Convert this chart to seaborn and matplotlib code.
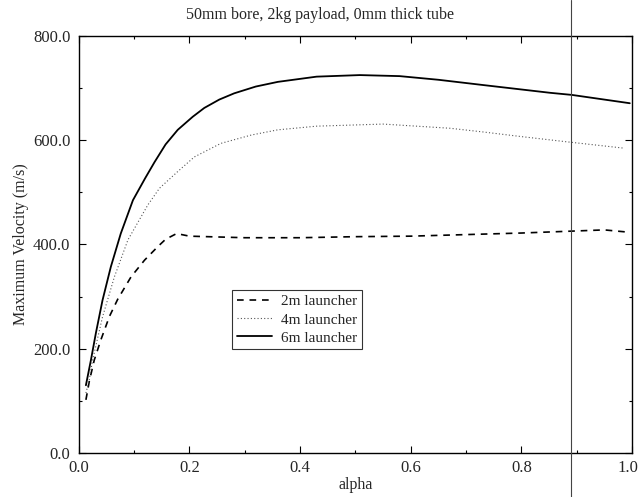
import matplotlib
matplotlib.use("Agg")
import matplotlib.pyplot as plt
import seaborn as sns
import pandas as pd
from matplotlib.lines import Line2D
from matplotlib.ticker import MultipleLocator, FuncFormatter, FormatStrFormatter

# ---- data ----
alpha_2m = [0.013, 0.019, 0.028, 0.040, 0.0555, 0.0705, 0.0946, 0.119, 0.143, 0.157, 0.177,
            0.2, 0.3, 0.4, 0.5, 0.6, 0.7, 0.8, 0.9, 0.95, 0.99]
vel_2m   = [102, 137, 178, 217, 262, 295, 338, 370, 396, 410, 421,
            416, 413, 413, 415, 416, 419, 422, 426, 428, 424]

alpha_4m = [0.013, 0.019, 0.025, 0.043, 0.0645, 0.089, 0.125, 0.146, 0.179, 0.209, 0.257,
            0.312, 0.36, 0.43, 0.55, 0.671, 0.73, 0.8, 0.882, 0.984]
vel_4m   = [115, 140, 178, 261, 338, 409, 476, 508, 540, 568, 594,
            610, 620, 627, 631, 623, 616, 607, 597, 585]

alpha_6m = [0.013, 0.022, 0.031, 0.043, 0.058, 0.076, 0.098, 0.12, 0.137, 0.157, 0.179,
            0.206, 0.227, 0.254, 0.281, 0.32, 0.36, 0.43, 0.508, 0.58, 0.65, 0.73,
            0.852, 0.891, 0.996]
vel_6m   = [130, 178, 230, 293, 357, 421, 485, 527, 558, 592, 620,
            645, 662, 678, 690, 703, 712, 722, 725, 723, 716, 706,
            691, 687, 671]

labels = ["2m launcher", "4m launcher", "6m launcher"]
title = "50mm bore, 2kg payload, 0mm thick tube"
xlabel = "alpha"
ylabel = "Maximum Velocity (m/s)"

sns.set_style("ticks")
plt.rcParams["font.family"] = ["Liberation Serif", "DejaVu Serif"]

fig = plt.figure(figsize=(6.4, 4.97), dpi=100)
ax = fig.add_axes([0.123, 0.0885, 0.8645, 0.8391])

df2 = pd.DataFrame({"alpha": alpha_2m, "v": vel_2m})
df4 = pd.DataFrame({"alpha": alpha_4m, "v": vel_4m})
df6 = pd.DataFrame({"alpha": alpha_6m, "v": vel_6m})

sns.lineplot(data=df2, x="alpha", y="v", ax=ax, color="black", lw=1.2,
             linestyle=(0, (4, 3.5)), label=labels[0])
sns.lineplot(data=df4, x="alpha", y="v", ax=ax, color="#555555", lw=0.8,
             linestyle=(0, (1, 2)), label=labels[1])
sns.lineplot(data=df6, x="alpha", y="v", ax=ax, color="black", lw=1.3,
             linestyle="-", label=labels[2])

ax.set_xlim(0, 1.0)
ax.set_ylim(0, 800)
ax.xaxis.set_major_locator(MultipleLocator(0.2))
ax.xaxis.set_minor_locator(MultipleLocator(0.1))
ax.yaxis.set_major_locator(MultipleLocator(200))
ax.yaxis.set_minor_locator(MultipleLocator(100))
# the right-most x label (1.0) is drawn separately so it stays inside the canvas
ax.xaxis.set_major_formatter(FuncFormatter(lambda v, p: "" if v > 0.99 else f"{v:.1f}"))
ax.yaxis.set_major_formatter(FormatStrFormatter("%.1f"))
ax.tick_params(which="both", direction="in", top=True, right=True,
               color="black", width=0.8)
ax.tick_params(axis="y", labelsize=12, pad=6)
ax.tick_params(axis="x", labelsize=12, pad=5)
ax.tick_params(which="major", length=5)
ax.tick_params(which="minor", length=2.5)
for s in ax.spines.values():
    s.set_linewidth(1.0)
    s.set_color("black")

ax.set_title(title, fontsize=11.5, pad=12, x=0.436)
ax.set_xlabel(xlabel, fontsize=11.5, labelpad=1)
ax.set_ylabel(ylabel, fontsize=11.5, labelpad=3)

leg = ax.legend(loc="upper left", bbox_to_anchor=(0.277, 0.391), frameon=True,
                borderaxespad=0, fancybox=False, edgecolor="black", fontsize=11,
                handlelength=2.3, borderpad=0.3, labelspacing=0.3, handletextpad=0.6)
leg.get_frame().set_linewidth(0.8)

fig.canvas.draw()
ref_lbl = ax.xaxis.get_major_ticks()[-2].label1
bb = ref_lbl.get_window_extent()
x_px = ax.transData.transform((1.0, 0))[0] - 4
fig.text(x_px / fig.bbox.width, bb.y1 / fig.bbox.height, "1.0",
         ha="center", va="top", fontsize=12)

# scan artifact: thin vertical line across the page
fig.add_artist(Line2D([0.892, 0.892], [0, 1], transform=fig.transFigure,
                      color="#444444", lw=0.8))

fig.savefig("out.png", dpi=100)
